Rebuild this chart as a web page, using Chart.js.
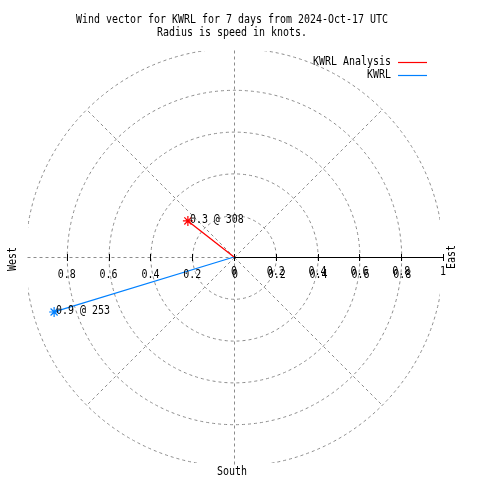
<!DOCTYPE html>
<html>
<head>
<meta charset="utf-8">
<script src="https://cdn.jsdelivr.net/npm/chart.js@4"></script>
<style>
    body { margin: 0; background: #fff; }
    #wrap { width: 480px; height: 480px; }
</style>
</head>
<body>
<div id="wrap"><canvas id="windChart" width="480" height="480"></canvas></div>
<script>
// wind vectors: speed in knots, direction in compass degrees
const seriesNames = ['KWRL Analysis', 'KWRL'];
const speeds = [0.28, 0.9];
const directions = [308, 253];
const seriesColors = ['#ff0000', '#0080ff'];

const titleLines = ['Wind vector for KWRL for 7 days from 2024-Oct-17 UTC', 'Radius is speed in knots.'];
const radiusTicks = [0.2, 0.4, 0.6, 0.8, 1];
const angleGrid = [45, 90, 135, 180, 225, 270, 315];

const FONT = 'DejaVu Sans Mono';

function toXY(speed, dir) {
    const a = dir * Math.PI / 180;
    return { x: speed * Math.sin(a), y: speed * Math.cos(a) };
}

function text(ctx, str, x, y, align, rotate) {
    ctx.save();
    ctx.translate(x, y);
    if (rotate) ctx.rotate(rotate);
    ctx.scale(0.83, 1);
    ctx.font = '12px "' + FONT + '"';
    ctx.fillStyle = '#000';
    ctx.textAlign = align || 'center';
    ctx.textBaseline = 'middle';
    ctx.fillText(str, 0, 0);
    ctx.restore();
}

const polarGrid = {
    id: 'polarGrid',
    beforeDatasetsDraw(chart) {
        const { ctx, chartArea: area, scales: { x, y } } = chart;
        const cx = x.getPixelForValue(0);
        const cy = y.getPixelForValue(0);
        const unit = x.getPixelForValue(1) - cx;

        ctx.save();
        ctx.strokeStyle = '#8c8c8c';
        ctx.lineWidth = 1;
        ctx.setLineDash([3, 3]);

        // circles, clipped a little inside the box
        ctx.save();
        ctx.beginPath();
        ctx.rect(area.left + 3, area.top + 3, area.width - 6, area.height - 6);
        ctx.clip();
        radiusTicks.forEach(r => {
            ctx.beginPath();
            ctx.arc(cx + 0.5, cy + 0.5, r * unit, 0, Math.PI * 2);
            ctx.stroke();
        });
        ctx.restore();

        // spokes
        angleGrid.forEach(deg => {
            const a = deg * Math.PI / 180;
            ctx.beginPath();
            ctx.moveTo(cx + 0.5, cy + 0.5);
            ctx.lineTo(cx + 0.5 + Math.cos(a) * unit, cy + 0.5 - Math.sin(a) * unit);
            ctx.stroke();
        });
        ctx.restore();

        // radial axis along east
        ctx.save();
        ctx.strokeStyle = '#000';
        ctx.lineWidth = 1;
        ctx.beginPath();
        ctx.moveTo(cx, cy + 0.5);
        ctx.lineTo(cx + unit, cy + 0.5);
        [0].concat(radiusTicks).forEach(r => {
            const px = Math.round(x.getPixelForValue(r)) + 0.5;
            ctx.moveTo(px, cy - 3);
            ctx.lineTo(px, cy + 4);
            if (r > 0 && r < 1) {
                const nx = Math.round(x.getPixelForValue(-r)) + 0.5;
                ctx.moveTo(nx, cy - 3);
                ctx.lineTo(nx, cy + 4);
            }
        });
        ctx.stroke();
        ctx.restore();
    },
    afterDraw(chart) {
        const { ctx, scales: { x, y } } = chart;
        const cx = x.getPixelForValue(0);
        const cy = y.getPixelForValue(0);

        text(ctx, titleLines[0], 232, 20);
        text(ctx, titleLines[1], 232, 33);

        // tick labels (the east side is printed twice, as in the original)
        radiusTicks.forEach(r => {
            const label = String(r);
            if (r < 1) {
                text(ctx, label, x.getPixelForValue(-r), cy + 18);
                text(ctx, label, x.getPixelForValue(r), cy + 15);
                text(ctx, label, x.getPixelForValue(r) + 1, cy + 18);
            } else {
                text(ctx, label, x.getPixelForValue(r), cy + 15);
            }
        });
        text(ctx, '0', cx, cy + 15);
        text(ctx, '0', cx + 1, cy + 18);

        text(ctx, 'West', 13, cy + 2, 'center', -Math.PI / 2);
        text(ctx, 'East', 452, cy, 'center', -Math.PI / 2);
        text(ctx, 'South', cx - 2, 472);

        // vector labels
        speeds.forEach((s, i) => {
            const p = toXY(s, directions[i]);
            const label = s.toFixed(1) + ' @ ' + directions[i];
            text(ctx, label, x.getPixelForValue(p.x) + 2, y.getPixelForValue(p.y) - 1, 'left');
        });

        // legend
        seriesNames.forEach((name, i) => {
            const ly = 62 + i * 13;
            text(ctx, name, 391, ly, 'right');
            ctx.save();
            ctx.strokeStyle = seriesColors[i];
            ctx.lineWidth = 1.2;
            ctx.beginPath();
            ctx.moveTo(398, ly + 0.5);
            ctx.lineTo(427, ly + 0.5);
            ctx.stroke();
            ctx.restore();
        });
    }
};

const datasets = seriesNames.map((name, i) => {
    const end = toXY(speeds[i], directions[i]);
    return {
        label: name,
        data: [{ x: 0, y: 0 }, end],
        showLine: true,
        borderColor: seriesColors[i],
        backgroundColor: seriesColors[i],
        borderWidth: 1.3,
        pointStyle: 'star',
        pointRadius: [0, 5],
        pointBorderWidth: 1.2
    };
});

const ctx = document.getElementById('windChart').getContext('2d');
const chart = new Chart(ctx, {
    type: 'scatter',
    data: { datasets: datasets },
    options: {
        responsive: false,
        animation: false,
        layout: { padding: { left: 25, right: 37, top: 48, bottom: 14 } },
        plugins: {
            legend: { display: false },
            title: { display: false },
            tooltip: { enabled: false }
        },
        scales: {
            x: { type: 'linear', min: -1, max: 1, display: false },
            y: { type: 'linear', min: -1, max: 1, display: false }
        }
    },
    plugins: [polarGrid]
});
</script>
</body>
</html>
